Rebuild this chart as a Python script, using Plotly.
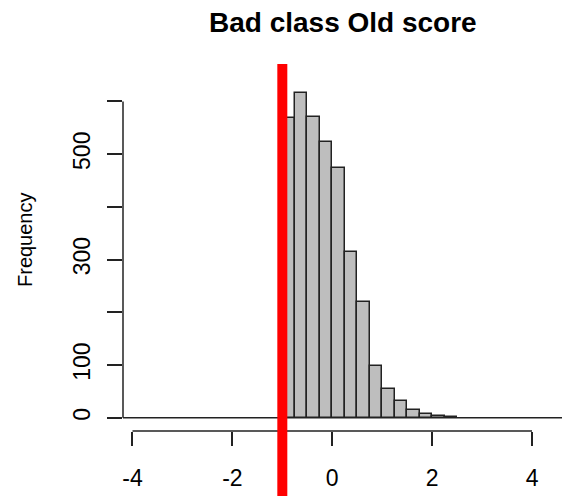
import plotly.graph_objects as go

# ---- data ----
bin_left = [-1.0, -0.75, -0.5, -0.25, 0.0, 0.25, 0.5, 0.75, 1.0, 1.25, 1.5, 1.75, 2.0, 2.25]
counts = [568, 617, 571, 523, 473, 314, 219, 99, 54, 32, 15, 7, 3, 2]
bin_width = 0.25
hist_range = [-4.25, 4.75]          # full span of the histogram breaks (empty bins drawn flat)
cutoff = -1.0                       # red vertical line
x_ticks = [-4, -2, 0, 2, 4]
y_ticks = [0, 100, 200, 300, 400, 500, 600]
y_ticktext = ["0", "100", "", "300", "", "500", ""]
title = "Bad class Old score"
y_title = "Frequency"

FONT = "Liberation Sans, Arial, sans-serif"
centers = [b + bin_width / 2 for b in bin_left]

fig = go.Figure()
# baseline of empty bins
fig.add_trace(go.Scatter(x=hist_range, y=[0, 0], mode="lines",
                         line=dict(color="#222222", width=1.5), hoverinfo="skip"))
fig.add_trace(go.Bar(x=centers, y=counts, width=bin_width,
                     marker=dict(color="#BEBEBE", line=dict(color="#222222", width=1.5))))

W, H = 562, 496
L, R, T, B = 123, 0, 64, 65
fig.update_layout(
    width=W, height=H, margin=dict(l=L, r=R, t=T, b=B),
    paper_bgcolor="white", plot_bgcolor="white", showlegend=False, bargap=0,
    font=dict(family=FONT, color="black"),
)
fig.update_xaxes(range=[-4.19, 4.6], tickvals=x_ticks, ticktext=[str(v) for v in x_ticks],
                 ticks="outside", ticklen=14, tickwidth=1.5, tickcolor="#222222",
                 showline=False, showgrid=False, zeroline=False, ticklabelstandoff=12,
                 tickfont=dict(size=23, family=FONT))
fig.update_yaxes(range=[-25.2, 671.1], tickvals=y_ticks, ticktext=y_ticktext,
                 ticks="outside", ticklen=15, tickwidth=1.5, tickcolor="#222222",
                 showline=False, showgrid=False, zeroline=False, tickangle=-90,
                 ticklabelstandoff=8,
                 tickfont=dict(size=23, family=FONT))

# R-style axis lines spanning first to last tick
fig.add_shape(type="line", xref="x", yref="paper", x0=x_ticks[0], x1=x_ticks[-1], y0=0, y1=0,
              line=dict(color="#222222", width=1.5))
fig.add_shape(type="line", xref="paper", yref="y", x0=0, x1=0, y0=y_ticks[0], y1=y_ticks[-1],
              line=dict(color="#222222", width=1.5))
# red cutoff line
fig.add_shape(type="line", xref="x", yref="paper", x0=cutoff, x1=cutoff, y0=-0.2, y1=1,
              line=dict(color="#FF0000", width=10), layer="above")

plot_w = W - L - R
plot_h = H - T - B
fig.add_annotation(text="<b>" + title + "</b>", xref="paper", yref="paper",
                   x=(343 - L) / plot_w, y=1 + (T - 22) / plot_h,
                   showarrow=False, font=dict(size=28, family=FONT), xanchor="center", yanchor="middle")
fig.add_annotation(text=y_title, xref="paper", yref="paper", textangle=-90,
                   x=(25 - L) / plot_w, y=(H - B - 240) / plot_h,
                   showarrow=False, font=dict(size=20, family=FONT), xanchor="center", yanchor="middle")

fig.write_html("out.html")
